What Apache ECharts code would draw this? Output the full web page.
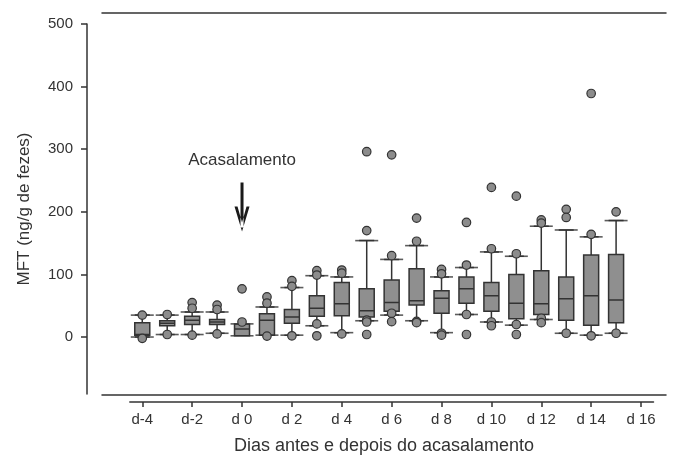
<!DOCTYPE html>
<html>
<head>
<meta charset="utf-8">
<script src="https://cdn.jsdelivr.net/npm/echarts@6/dist/echarts.min.js"></script>
<style>
  html, body { margin: 0; padding: 0; background: #fff; }
  #chart { width: 673px; height: 460px; }
</style>
</head>
<body>
<div id="chart"></div>
<script>
// days d-4 .. d 16 (d 16 has no samples)
const days = ["d-4", "d-3", "d-2", "d-1", "d 0", "d 1", "d 2", "d 3", "d 4", "d 5", "d 6",
  "d 7", "d 8", "d 9", "d 10", "d 11", "d 12", "d 13", "d 14", "d 15", "d 16"];

// [min, Q1, median, Q3, max]
const boxes = [
  [0, 3, 4, 23, 35],
  [4, 18, 22, 26, 35],
  [4, 20, 27, 33, 40],
  [6, 20, 24, 28, 40],
  [2, 2, 13, 21, 21],
  [3, 3, 27, 37, 48],
  [3, 22, 32, 44, 79],
  [18, 33, 46, 66, 98],
  [7, 34, 53, 87, 96],
  [26, 32, 42, 77, 154],
  [35, 41, 55, 91, 124],
  [26, 51, 58, 109, 146],
  [7, 38, 62, 74, 96],
  [36, 54, 77, 96, 111],
  [24, 41, 66, 87, 136],
  [19, 29, 54, 100, 129],
  [28, 36, 53, 106, 177],
  [6, 27, 61, 96, 171],
  [3, 19, 66, 131, 160],
  [6, 23, 59, 132, 186],
];

const outliers = [
  [35, -2],
  [36, 4],
  [55, 46, 3],
  [51, 44, 5],
  [77, 24],
  [64, 54, 1.5],
  [90, 81, 2],
  [106, 99, 21, 2],
  [107, 102, 5],
  [296, 170, 27, 24, 4],
  [291, 130, 38, 24.5],
  [190, 153, 25, 23],
  [108, 101, 6, 3],
  [183, 115, 36, 4],
  [239, 141, 24, 18],
  [225, 133, 20, 4],
  [187, 182, 30, 23],
  [204, 191, 6],
  [389, 164, 2],
  [200, 6],
];

const yTicks = [0, 100, 200, 300, 400, 500];

const capData = [];
boxes.forEach((b, i) => {
  capData.push([days[i], b[0]]);
  capData.push([days[i], b[4]]);
});
const outlierData = [];
outliers.forEach((list, i) => {
  list.forEach((v) => outlierData.push([days[i], v]));
});

const ink = "#333";
const chart = echarts.init(document.getElementById("chart"), null, { renderer: "canvas" });
const option = {
  animation: false,
  textStyle: { fontFamily: "Liberation Sans, Arial, sans-serif", color: ink },
  grid: [
    { left: 129.8, right: 19.5, top: 24, bottom: 66 },
    { left: 102, right: 7, top: 13, bottom: 58 },
  ],
  xAxis: [
    {
      type: "category",
      gridIndex: 0,
      data: days,
      offset: 8,
      axisLine: { show: true, onZero: false, lineStyle: { color: ink, width: 1.5 } },
      axisTick: {
        show: true, length: 5, alignWithLabel: true, interval: 1,
        lineStyle: { color: ink, width: 1.5 },
      },
      axisLabel: { interval: 1, margin: 10, fontSize: 15, color: ink },
      splitLine: { show: false },
    },
    {
      type: "value",
      gridIndex: 1,
      min: 0,
      max: 1,
      position: "bottom",
      axisLine: { show: true, onZero: false, lineStyle: { color: ink, width: 1.5 } },
      axisTick: { show: false },
      axisLabel: { show: false },
      splitLine: { show: false },
      name: "Dias antes e depois do acasalamento",
      nameLocation: "middle",
      nameGap: 42,
      nameTextStyle: { fontSize: 18, color: ink },
    },
    {
      type: "value",
      gridIndex: 1,
      min: 0,
      max: 1,
      position: "top",
      axisLine: { show: true, onZero: false, lineStyle: { color: ink, width: 1.5 } },
      axisTick: { show: false },
      axisLabel: { show: false },
      splitLine: { show: false },
    },
  ],
  yAxis: [
    {
      type: "value",
      gridIndex: 0,
      position: "left",
      offset: 42.8,
      min: -91,
      max: 500,
      axisLine: { show: true, onZero: false, lineStyle: { color: ink, width: 1.5 } },
      axisTick: { show: true, length: 6, customValues: yTicks, lineStyle: { color: ink, width: 1.5 } },
      axisLabel: { customValues: yTicks, margin: 14, fontSize: 15, color: ink },
      splitLine: { show: false },
      name: "MFT (ng/g de fezes)",
      nameLocation: "middle",
      nameGap: 54,
      nameTextStyle: { fontSize: 17, color: ink },
    },
    { type: "value", gridIndex: 1, show: false, min: 0, max: 1 },
  ],
  series: [
    {
      type: "boxplot",
      xAxisIndex: 0,
      yAxisIndex: 0,
      data: boxes,
      boxWidth: [15, 15],
      itemStyle: { color: "#8f8f8f", borderColor: ink, borderWidth: 1.5 },
      emphasis: { disabled: true },
      markPoint: {
        silent: true,
        data: [
          {
            coord: ["d 0", 207.5],
            symbol: "path://M6,0 L9,0 L9,45 L6,45 Z M0,24 L7.5,49 L15,24 L12,24 L7.5,40 L3,24 Z",
            symbolSize: [15, 49],
            itemStyle: { color: "#1a1a1a" },
            label: { show: false },
          },
          {
            coord: ["d 0", 282.7],
            symbol: "circle",
            symbolSize: 0,
            label: { show: true, position: "inside", formatter: "Acasalamento", fontSize: 17, color: ink },
          },
        ],
      },
    },
    {
      type: "scatter",
      xAxisIndex: 0,
      yAxisIndex: 0,
      data: capData,
      symbol: "rect",
      symbolSize: [23, 1.6],
      itemStyle: { color: ink },
      silent: true,
    },
    {
      type: "scatter",
      xAxisIndex: 0,
      yAxisIndex: 0,
      data: outlierData,
      symbolSize: 8.5,
      itemStyle: { color: "#8c8c8c", borderColor: ink, borderWidth: 1.2, opacity: 1 },
      silent: true,
    },
  ],
};
chart.setOption(option);
</script>
</body>
</html>
